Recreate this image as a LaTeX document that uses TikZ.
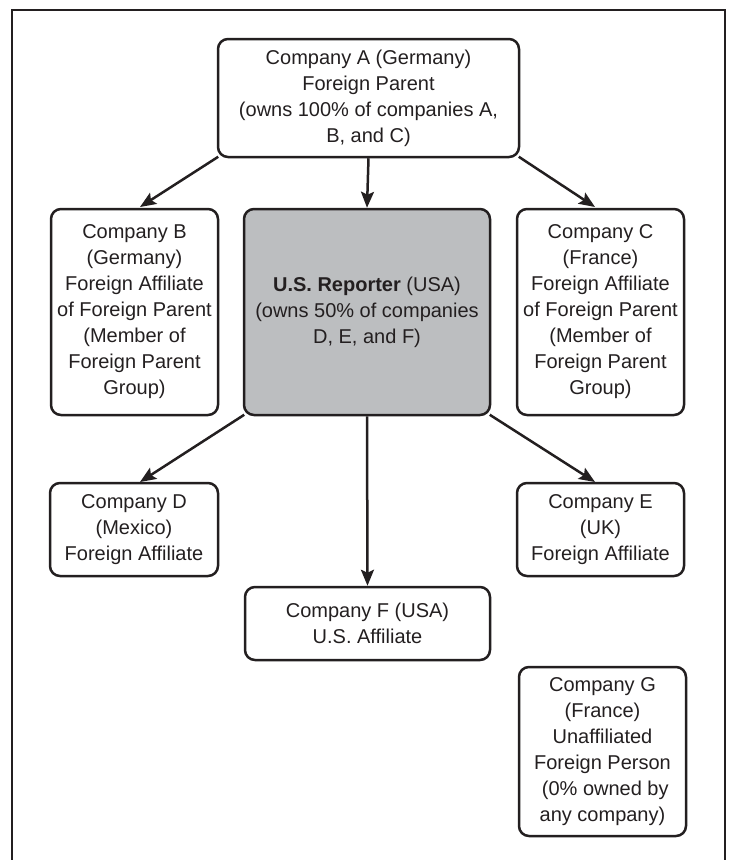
\documentclass[tikz,border=0pt]{standalone}
\usepackage{fontspec}
\setmainfont{Liberation Sans}
\usetikzlibrary{arrows.meta}
\definecolor{ink}{HTML}{231F20}
\definecolor{boxgray}{HTML}{BCBEC0}
\newcommand\boxfont{\fontsize{20}{26}\selectfont}
\tikzset{
  box/.style={draw=ink, text=ink, line width=2.5pt, rounded corners=10pt,
    align=center, font=\boxfont, inner sep=0pt, rectangle},
  link/.style={draw=ink, line width=2.5pt, -{Stealth[length=16pt,width=13pt,inset=3pt]}}
}
\begin{document}
\begin{tikzpicture}[x=1pt,y=-1pt]
\useasboundingbox (0,0) rectangle (730,860);
\draw[ink, line width=2.5pt] (12,862) -- (12,10) -- (725,10) -- (725,862);

\node[box, minimum width=301pt, minimum height=118pt] (A) at (368.5,98)
  {Company A (Germany)\\Foreign Parent\\(owns 100\% of companies A,\\B, and C)};
\node[box, minimum width=167pt, minimum height=206pt] (B) at (134.5,312)
  {Company B\\(Germany)\\Foreign Affiliate\\of Foreign Parent\\(Member of\\Foreign Parent\\Group)};
\node[box, fill=boxgray, minimum width=246pt, minimum height=206pt] (US) at (367,312)
  {\textbf{U.S. Reporter} (USA)\\(owns 50\% of companies\\D, E, and F)};
\node[box, minimum width=167pt, minimum height=206pt] (C) at (600.5,312)
  {Company C\\(France)\\Foreign Affiliate\\of Foreign Parent\\(Member of\\Foreign Parent\\Group)};
\node[box, minimum width=168pt, minimum height=93pt] (D) at (134,529.5)
  {Company D\\(Mexico)\\Foreign Affiliate};
\node[box, minimum width=167pt, minimum height=93pt] (E) at (600.5,529.5)
  {Company E\\(UK)\\Foreign Affiliate};
\node[box, minimum width=245pt, minimum height=73pt] (F) at (367.5,623.5)
  {Company F (USA)\\U.S. Affiliate};
\node[box, minimum width=167pt, minimum height=169pt] (G) at (602.5,751.5)
  {Company G\\(France)\\Unaffiliated\\Foreign Person\\\ (0\% owned by\\any company)};

\coordinate (Bt) at (140,207);
\coordinate (Ct) at (595,207);
\coordinate (Dt) at (140,482);
\coordinate (Et) at (595,482);

\draw[link] (A.south west) ++(1.5,-1.5) -- (Bt);
\draw[link] (A.south) -- (US.north);
\draw[link] (A.south east) ++(-1.5,-1.5) -- (Ct);
\draw[link] (US.south west) ++(1.5,-1.5) -- (Dt);
\draw[link] (US.south) -- (F.north);
\draw[link] (US.south east) ++(-1.5,-1.5) -- (Et);
\end{tikzpicture}
\end{document}
